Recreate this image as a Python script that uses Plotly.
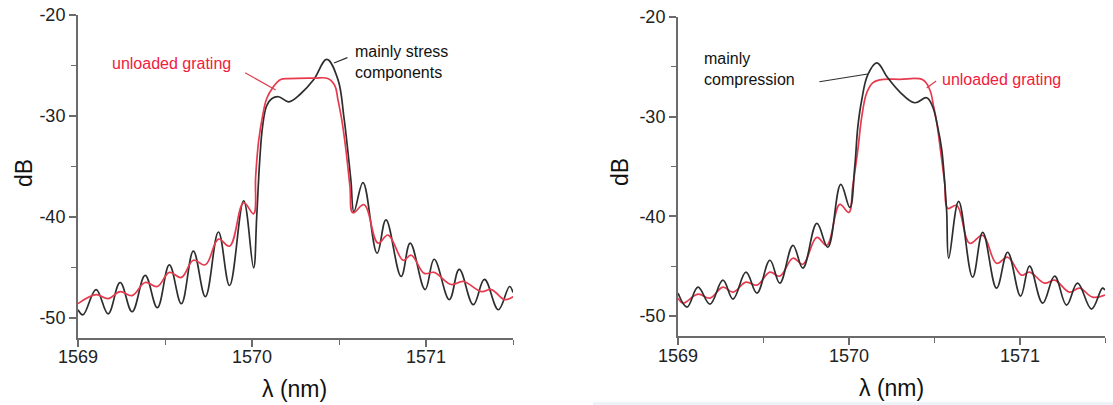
import plotly.graph_objects as go

# ---------------- data ----------------
# Left panel: "mainly stress components"
left_black_x = [1569.000, 1569.029, 1569.104, 1569.173, 1569.242, 1569.311, 1569.386, 1569.456,
                1569.525, 1569.594, 1569.663, 1569.732, 1569.807, 1569.871, 1569.952, 1570.009,
                1570.027, 1570.044, 1570.061, 1570.084, 1570.113, 1570.153, 1570.211, 1570.280,
                1570.355, 1570.430, 1570.494, 1570.528, 1570.551, 1570.569, 1570.586, 1570.638,
                1570.719, 1570.770, 1570.857, 1570.909, 1570.995, 1571.047, 1571.134, 1571.191,
                1571.272, 1571.336, 1571.416, 1571.480, 1571.500]
left_black_y = [-49.2, -49.7, -47.2, -49.6, -46.5, -49.4, -45.8, -49.0,
                -44.75, -48.6, -43.4, -47.9, -41.5, -46.8, -38.4, -45.05,
                -40.0, -34.5, -31.0, -29.0, -28.3, -28.1, -28.6, -27.8,
                -26.4, -24.4, -26.4, -30.1, -33.5, -36.5, -39.5, -36.6,
                -43.6, -40.3, -45.9, -42.6, -47.2, -44.2, -48.2, -45.2,
                -48.7, -46.2, -49.2, -46.9, -47.5]

left_red_x = [1569.000, 1569.104, 1569.173, 1569.242, 1569.311, 1569.386, 1569.456, 1569.525,
              1569.594, 1569.663, 1569.732, 1569.807, 1569.871, 1569.952, 1570.009, 1570.021,
              1570.038, 1570.061, 1570.084, 1570.119, 1570.165, 1570.211, 1570.355, 1570.436,
              1570.476, 1570.494, 1570.517, 1570.540, 1570.563, 1570.580, 1570.644, 1570.724,
              1570.782, 1570.869, 1570.915, 1570.990, 1571.047, 1571.145, 1571.215, 1571.318,
              1571.376, 1571.451, 1571.500]
left_red_y = [-48.6, -47.7, -48.1, -47.4, -47.8, -46.5, -46.9, -45.5,
              -46.0, -44.3, -44.75, -42.2, -42.9, -38.6, -39.7, -36.0,
              -32.5, -30.0, -28.3, -27.2, -26.4, -26.3, -26.25, -26.3,
              -27.0, -28.4, -30.5, -33.4, -37.0, -39.6, -38.8, -42.6,
              -41.8, -44.3, -43.8, -45.6, -45.5, -46.7, -46.4, -47.4,
              -47.2, -48.2, -47.9]

# Right panel: "mainly compression"
right_black_x = [1569.000, 1569.053, 1569.117, 1569.187, 1569.263, 1569.322, 1569.398, 1569.462,
                 1569.538, 1569.596, 1569.673, 1569.731, 1569.813, 1569.877, 1569.953, 1570.006,
                 1570.035, 1570.053, 1570.076, 1570.111, 1570.164, 1570.228, 1570.298, 1570.386,
                 1570.456, 1570.491, 1570.520, 1570.544, 1570.561, 1570.573, 1570.585, 1570.643,
                 1570.725, 1570.784, 1570.865, 1570.930, 1571.006, 1571.058, 1571.135, 1571.205,
                 1571.275, 1571.339, 1571.421, 1571.485, 1571.500]
right_black_y = [-47.7, -49.1, -47.1, -48.8, -46.4, -48.3, -45.6, -47.7,
                 -44.4, -46.7, -42.9, -45.2, -40.7, -43.1, -36.8, -39.1,
                 -35.0, -31.0, -28.3, -25.8, -24.6, -26.1, -27.5, -28.6,
                 -28.1, -29.0, -31.0, -33.3, -36.5, -39.5, -44.2, -38.5,
                 -46.1, -41.6, -47.2, -43.6, -48.0, -45.0, -48.7, -46.0,
                 -48.9, -46.7, -49.3, -47.2, -47.4]

right_red_x = [1569.000, 1569.029, 1569.117, 1569.187, 1569.263, 1569.322, 1569.398, 1569.462,
               1569.538, 1569.596, 1569.673, 1569.731, 1569.813, 1569.871, 1569.947, 1570.000,
               1570.023, 1570.053, 1570.076, 1570.105, 1570.140, 1570.181, 1570.298, 1570.433,
               1570.474, 1570.497, 1570.515, 1570.538, 1570.561, 1570.579, 1570.632, 1570.708,
               1570.784, 1570.865, 1570.930, 1571.012, 1571.058, 1571.146, 1571.205, 1571.292,
               1571.351, 1571.427, 1571.500]
right_red_y = [-48.2, -48.7, -47.8, -48.2, -47.1, -47.6, -46.6, -46.9,
               -45.6, -46.0, -44.2, -44.8, -42.1, -42.9, -38.8, -39.6,
               -37.0, -33.3, -30.0, -27.6, -26.6, -26.3, -26.25, -26.3,
               -27.3, -29.0, -30.6, -33.5, -36.6, -39.2, -38.9, -42.7,
               -41.9, -44.7, -44.1, -45.9, -45.6, -46.7, -46.4, -47.6,
               -47.2, -48.1, -47.9]

x_tick_vals = [1569, 1570, 1571]
x_tick_text = ["1569", "1570", "1571"]
y_tick_vals = [-20, -30, -40, -50]
y_tick_text = ["-20", "-30", "-40", "-50"]

# ---------------- styling ----------------
FONT = "Liberation Sans, Arial, sans-serif"
BLACK = "#2e2e2e"
RED = "#e63a4e"
RED_TXT = "#f0203c"
AX = "#6b6b6b"

fig = go.Figure()

def line(x, y, color, xa, ya):
    return go.Scatter(x=x, y=y, mode="lines", xaxis=xa, yaxis=ya,
                      line=dict(color=color, width=1.7, shape="spline", smoothing=1.1),
                      hoverinfo="skip", showlegend=False)

fig.add_trace(line(left_black_x, left_black_y, BLACK, "x", "y"))
fig.add_trace(line(left_red_x, left_red_y, RED, "x", "y"))
fig.add_trace(line(right_red_x, right_red_y, RED, "x2", "y2"))
fig.add_trace(line(right_black_x, right_black_y, BLACK, "x2", "y2"))

W, H = 1113, 405
L_dom = [78 / W, 513 / W]
R_dom = [678 / W, 1105 / W]
L_ydom = [1 - 338 / H, 1 - 15 / H]
R_ydom = [1 - 336 / H, 1 - 17 / H]
XR = [1569, 1571.5]
YR = [-52, -20]

tickfont = dict(family=FONT, size=18, color="#222")

def xa_main(dom, anchor):
    return dict(domain=dom, range=XR, anchor=anchor, showgrid=False, zeroline=False,
                automargin=False,
                showline=True, linecolor=AX, linewidth=2,
                ticks="outside", ticklen=7, tickwidth=1.5, tickcolor=AX,
                tickmode="array", tickvals=x_tick_vals, showticklabels=False,
                minor=dict(dtick=0.5, tick0=1569, ticks="outside", ticklen=5,
                           tickwidth=1.2, tickcolor=AX, showgrid=False))

def ya_main(dom, anchor):
    return dict(domain=dom, range=YR, anchor=anchor, showgrid=False, zeroline=False,
                automargin=False,
                showline=True, linecolor=AX, linewidth=2,
                ticks="outside", ticklen=7, tickwidth=1.5, tickcolor=AX,
                tickmode="array", tickvals=y_tick_vals, ticktext=y_tick_text,
                tickfont=tickfont,
                minor=dict(dtick=5, tick0=-50, ticks="outside", ticklen=5,
                           tickwidth=1.2, tickcolor=AX, showgrid=False))

def xa_top(over, anchor):
    return dict(overlaying=over, side="top", anchor=anchor, range=XR, showgrid=False,
                zeroline=False, automargin=False, showline=True, linecolor=AX, linewidth=2,
                ticks="inside", ticklen=5, tickwidth=1.2, tickcolor=AX,
                tickmode="array", tickvals=x_tick_vals, showticklabels=False,
                minor=dict(dtick=0.5, tick0=1569, ticks="inside", ticklen=5,
                           tickwidth=1.2, tickcolor=AX, showgrid=False))

def ya_right(over, anchor):
    return dict(overlaying=over, side="right", anchor=anchor, range=YR, showgrid=False,
                zeroline=False, automargin=False, showline=True, linecolor=AX, linewidth=2,
                ticks="inside", ticklen=5, tickwidth=1.2, tickcolor=AX,
                tickmode="array", tickvals=y_tick_vals, showticklabels=False,
                minor=dict(dtick=5, tick0=-50, ticks="inside", ticklen=5,
                           tickwidth=1.2, tickcolor=AX, showgrid=False))

fig.update_layout(
    width=W, height=H, margin=dict(l=0, r=0, t=0, b=0, autoexpand=False),
    paper_bgcolor="white", plot_bgcolor="white",
    font=dict(family=FONT, size=16, color="#222"),
    xaxis=xa_main(L_dom, "y"), yaxis=ya_main(L_ydom, "x"),
    xaxis2=xa_main(R_dom, "y2"), yaxis2=ya_main(R_ydom, "x2"),
    xaxis3=xa_top("x", "y"), yaxis3=ya_right("y", "x"),
    xaxis4=xa_top("x2", "y2"), yaxis4=ya_right("y2", "x2"),
    showlegend=False,
)

ann = []
# x tick labels (placed on the data axis so they centre on the tick)
for xr, yc in [("x", 357), ("x2", 356)]:
    for v, t in zip(x_tick_vals, x_tick_text):
        ann.append(dict(text=t, xref=xr, yref="paper", x=v, y=1 - yc / H,
                        xanchor="center", yanchor="middle", showarrow=False,
                        font=tickfont))
# axis titles
for xc, yc in [(24, 173), (620, 172)]:
    ann.append(dict(text="dB", xref="paper", yref="paper", x=xc / W, y=1 - yc / H,
                    xanchor="center", yanchor="middle", textangle=-90, showarrow=False,
                    font=dict(family=FONT, size=23, color="#111")))
for xc, yc in [(294, 389), (891, 388)]:
    ann.append(dict(text="\u03bb (nm)", xref="paper", yref="paper", x=xc / W, y=1 - yc / H,
                    xanchor="center", yanchor="middle", showarrow=False,
                    font=dict(family=FONT, size=23, color="#111")))

# text labels
ann.append(dict(text="unloaded grating", xref="x", yref="y", x=1569.536, y=-24.85,
                xanchor="center", yanchor="middle", showarrow=False,
                font=dict(family=FONT, size=16, color=RED_TXT)))
ann.append(dict(text="mainly stress<br>components", xref="x", yref="y", x=1570.58, y=-24.65,
                xanchor="left", yanchor="middle", align="left", showarrow=False,
                font=dict(family=FONT, size=16, color="#111")))
ann.append(dict(text="mainly<br>compression", xref="x2", yref="y2", x=1569.14, y=-25.22,
                xanchor="left", yanchor="middle", align="left", showarrow=False,
                font=dict(family=FONT, size=16, color="#111")))
ann.append(dict(text="unloaded grating", xref="x2", yref="y2", x=1570.532, y=-26.22,
                xanchor="left", yanchor="middle", showarrow=False,
                font=dict(family=FONT, size=16, color=RED_TXT)))

# leader lines
for xr, yr, hx, hy, tx, ty, col in [
    ("x", "y", 1570.136, -27.43, 1569.952, -25.64, RED),
    ("x", "y", 1570.471, -24.75, 1570.557, -24.16, BLACK),
    ("x2", "y2", 1570.111, -25.72, 1569.819, -26.52, BLACK),
    ("x2", "y2", 1570.456, -27.12, 1570.520, -26.32, RED),
]:
    ann.append(dict(text="", xref=xr, yref=yr, x=hx, y=hy, axref=xr, ayref=yr, ax=tx, ay=ty,
                    showarrow=True, arrowhead=0, arrowwidth=1.2, arrowcolor=col,
                    standoff=0, startstandoff=0))

fig.update_layout(annotations=ann)

fig.add_shape(type="rect", xref="paper", yref="paper", x0=593 / W, x1=1.0, y0=0, y1=3 / H,
              fillcolor="#eef3fa", line=dict(width=0), layer="below")

fig.write_html("out.html")
